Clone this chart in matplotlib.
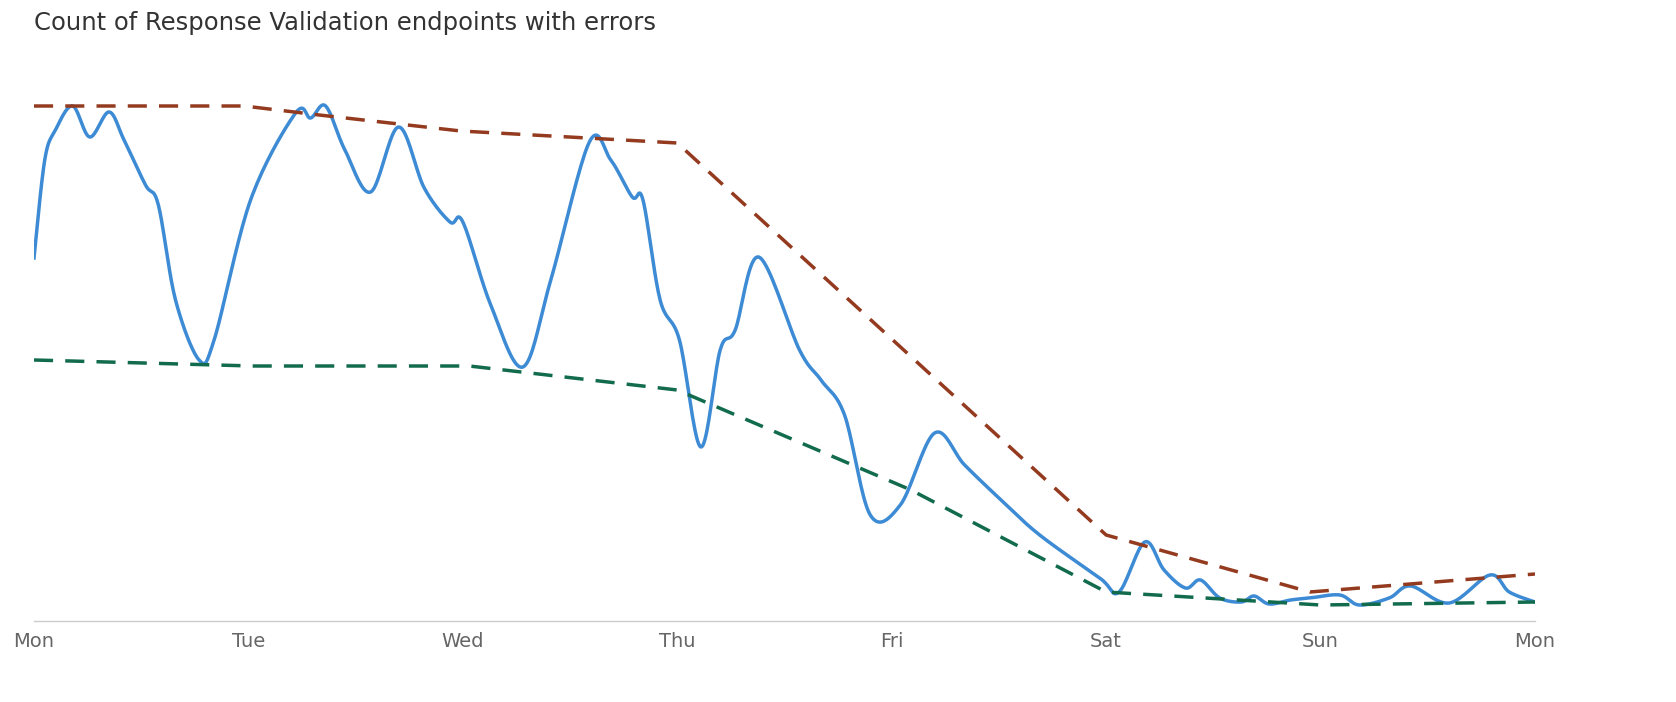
import matplotlib
matplotlib.use("Agg")
import matplotlib.pyplot as plt
import numpy as np

tick_labels = ["Mon", "Tue", "Wed", "Thu", "Fri", "Sat", "Sun", "Mon"]

blue_days = [0.00,0.05,0.10,0.18,0.26,0.35,0.42,0.52,0.58,0.66,0.77,0.84,1.01,1.22,1.29,1.36,1.45,1.57,1.70,1.82,1.94,2.00,2.13,2.28,2.41,2.59,2.69,2.79,2.84,2.92,3.01,3.11,3.20,3.27,3.38,3.57,3.67,3.78,3.90,4.04,4.20,4.34,4.51,4.69,4.97,5.06,5.18,5.27,5.37,5.44,5.53,5.63,5.69,5.76,5.86,5.95,6.09,6.18,6.32,6.42,6.60,6.79,6.88,7.00]
blue_vals = [363,461,491,515,484,509,481,436,416,321,261,281,421,508,503,515,471,429,494,433,399,399,316,254,341,479,461,424,421,321,281,174,271,291,364,271,241,206,106,116,188,156,121,86,43,29,79,51,33,41,23,19,25,17,21,23,26,16,23,35,18,46,29,19]

red_days = [0, 0.98, 1.33, 1.99, 3.00, 5.00, 5.95, 7.00]
red_vals = [515, 515, 506, 490, 478, 86, 29, 47]

green_days = [0, 1.02, 2.03, 3.00, 4.09, 5.00, 6.00, 7.00]
green_vals = [261, 255, 255, 231, 131, 29, 16, 19]

def smooth(x, y, n=20):
    # Catmull-Rom rendering of the polyline for a smooth curve
    x = np.asarray(x, float); y = np.asarray(y, float)
    px = np.concatenate([[x[0]], x, [x[-1]]]); py = np.concatenate([[y[0]], y, [y[-1]]])
    ox, oy = [], []
    for i in range(1, len(px) - 2):
        t = np.linspace(0, 1, n, endpoint=False)
        for arr, out in ((px, ox), (py, oy)):
            p0, p1, p2, p3 = arr[i-1], arr[i], arr[i+1], arr[i+2]
            out.extend(0.5*((2*p1) + (-p0+p2)*t + (2*p0-5*p1+4*p2-p3)*t**2 + (-p0+3*p1-3*p2+p3)*t**3))
    ox.append(x[-1]); oy.append(y[-1])
    return np.array(ox), np.array(oy)

fig = plt.figure(figsize=(16.76, 7.02), dpi=100)
ax = fig.add_axes([34/1676, 1-621/702, (1535-34)/1676, (621-50)/702])

sx, sy = smooth(blue_days, blue_vals)
ax.plot(sx, sy, color="#3d8bd4", lw=2.5)
ax.plot(red_days, red_vals, color="#933a1f", lw=2.5, ls=(0, (5.5, 3.5)))
ax.plot(green_days, green_vals, color="#116b4c", lw=2.5, ls=(0, (5.5, 3.5)))

ax.set_xlim(0, 7)
ax.set_ylim(0, 571)
ax.set_yticks([])
ax.set_xticks(range(8))
ax.set_xticklabels(tick_labels, fontsize=14, color="#666666")
ax.tick_params(axis="x", length=0, pad=8)
for s in ["top", "right", "left"]:
    ax.spines[s].set_visible(False)
ax.spines["bottom"].set_color("#cccccc")
ax.spines["bottom"].set_linewidth(1)
fig.text(34/1676, 1-23/702, "Count of Response Validation endpoints with errors",
         fontsize=17.5, color="#333333", va="center", ha="left")
fig.savefig("out.png", dpi=100)
